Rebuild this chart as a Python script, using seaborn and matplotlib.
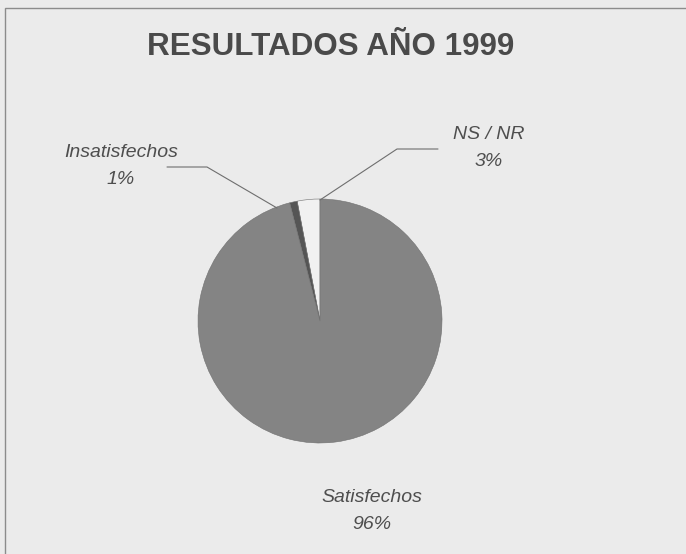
import matplotlib
matplotlib.use("Agg")
import matplotlib.pyplot as plt
import matplotlib.patches as mpatches
import seaborn as sns

# data
categories = ['NS / NR', 'Insatisfechos', 'Satisfechos']
shares = [3, 1, 96]
slice_colors = ['#f1f1f1', '#555555', '#848484']
title = 'RESULTADOS AÑO 1999'

sns.set_style("white")
plt.rcParams['font.family'] = ['Liberation Sans', 'DejaVu Sans']

W, H = 686, 554
fig = plt.figure(figsize=(W / 100, H / 100), dpi=100)
fig.patch.set_facecolor('#ebebeb')

# frame of the scanned box (top and left edges visible)
fig.patches.append(mpatches.Rectangle((5 / W, -0.1), 1.2, (H - 8) / H + 0.1,
                                      transform=fig.transFigure, fill=False,
                                      edgecolor='#8c8c8c', linewidth=1.0))

# pie axes: centre (320, 321) px, radius 122 px
cx, cy, r = 320, 321, 122
ax = fig.add_axes([(cx - r) / W, (H - cy - r) / H, 2 * r / W, 2 * r / H])
ax.pie(shares, colors=slice_colors, startangle=90, counterclock=True,
       wedgeprops=dict(edgecolor='#707070', linewidth=0.4))
ax.set_xlim(-1, 1)
ax.set_ylim(-1, 1)
ax.set_aspect('equal')
ax.axis('off')


def px(x, y):
    return (x - cx) / r, (cy - y) / r


# leader lines
for pts in ([(167, 167), (207, 167), (277, 208)],
            [(438, 149), (397, 149), (320, 200)]):
    xs, ys = zip(*[px(*p) for p in pts])
    ax.plot(xs, ys, color='#6e6e6e', linewidth=0.8, clip_on=False)

label_pos = {'NS / NR': (489, 148), 'Insatisfechos': (121, 166), 'Satisfechos': (372, 511)}
for cat, val in zip(categories, shares):
    x, y = label_pos[cat]
    fig.text(x / W, 1 - y / H, f'{cat}\n{val}%', ha='center', va='center',
             fontsize=14, style='italic', color='#4e4e4e', linespacing=1.7)

fig.text(331 / W, 1 - 47 / H, title, ha='center', va='center', fontsize=22.6,
         fontweight='bold', color='#4a4a4a')

fig.savefig('out.png', dpi=100, facecolor=fig.get_facecolor())
